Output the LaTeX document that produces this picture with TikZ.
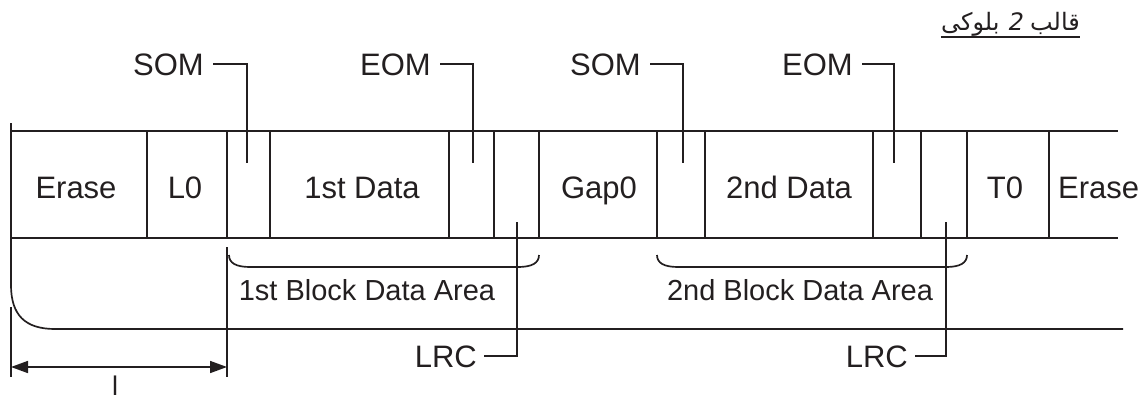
\documentclass[tikz,border=0pt]{standalone}
\usepackage{fontspec}
\setmainfont{Liberation Sans}
\newfontfamily\arabicfont[Script=Arabic]{DejaVu Sans}
\TeXXeTstate=1
\usetikzlibrary{arrows.meta}
\definecolor{ink}{RGB}{35,31,32}
\tikzset{
  lab/.style={font=\fontsize{31}{36}\selectfont, inner sep=0pt, text=ink},
  small/.style={font=\fontsize{29}{34}\selectfont, inner sep=0pt, text=ink},
  ttl/.style={font=\arabicfont\fontsize{24}{29}\selectfont, inner sep=0pt, text=ink},
  ln/.style={draw=ink, line width=1.7pt},
  dimarrow/.style={ln, {Triangle[length=17pt,width=12pt]}-{Triangle[length=17pt,width=12pt]}},
}
\begin{document}
\begin{tikzpicture}[x=1pt,y=-1pt]
\useasboundingbox (0,0) rectangle (1146,399);
% title
\node[ttl, anchor=base east] (title) at (1080,30) {\beginR قالب {\addfontfeature{FakeSlant=0.2}2} بلوکی\endR};
\draw[draw=ink, line width=1.3pt] ([yshift=-7pt]title.base west) -- ([yshift=-7pt]title.base east);
% tape outline
\draw[ln] (11,123) -- (11,285) .. controls (11,315) and (25,329) .. (55,329) -- (1123,329);
\draw[ln] (11,131) -- (1118,131);
\draw[ln] (11,238) -- (1118,238);
% cell dividers
\foreach \x in {147,227,270,449,494,539,657,705,873,921,967,1049}
  \draw[ln] (\x,131) -- (\x,238);
% cell texts
\node[lab, anchor=base] (erase1) at (76,198) {Erase};
\node[lab, anchor=base] (l0) at (185,198) {L0};
\node[lab, anchor=base] (d1) at (362,198) {1st Data};
\node[lab, anchor=base] (gap) at (599,198) {Gap0};
\node[lab, anchor=base] (d2) at (789,198) {2nd Data};
\node[lab, anchor=base] (t0) at (1005,198) {T0};
\node[lab, anchor=base west] (erase2) at (1058,198) {Erase};
% top leaders
\coordinate (s1) at (247,163);
\coordinate (e1) at (473,163);
\coordinate (s2) at (683,163);
\coordinate (e2) at (894,163);
\node[lab, anchor=base east] (som1) at (204,75) {SOM};
\node[lab, anchor=base east] (eom1) at (431,75) {EOM};
\node[lab, anchor=base east] (som2) at (641,75) {SOM};
\node[lab, anchor=base east] (eom2) at (853,75) {EOM};
\draw[ln] ([xshift=9pt]som1.east) -| (s1);
\draw[ln] ([xshift=9pt]eom1.east) -| (e1);
\draw[ln] ([xshift=9pt]som2.east) -| (s2);
\draw[ln] ([xshift=9pt]eom2.east) -| (e2);
% LRC leaders
\coordinate (r1) at (517,222);
\coordinate (r2) at (946,222);
\node[lab, anchor=base east] (lrc1) at (477,367) {LRC};
\node[lab, anchor=base east] (lrc2) at (908,367) {LRC};
\draw[ln] ([xshift=7pt]lrc1.east) -| (r1);
\draw[ln] ([xshift=7pt]lrc2.east) -| (r2);
% braces
\draw[ln] (229,255) .. controls (229,263) and (236,267) .. (250,267) -- (518,267) .. controls (532,267) and (539,263) .. (539,255);
\draw[ln] (657,255) .. controls (657,263) and (664,267) .. (678,267) -- (946,267) .. controls (960,267) and (967,263) .. (967,255);
\node[small, anchor=base] (b1) at (367,300) {1st Block Data Area};
\node[small, anchor=base] (b2) at (800,300) {2nd Block Data Area};
% dimension
\coordinate (da) at (11,367);
\coordinate (db) at (227,367);
\draw[ln] (11,307) -- (11,377);
\draw[ln] (227,247) -- (227,377);
\draw[dimarrow] (da) -- (db);
\node[font=\fontsize{27}{31}\selectfont, inner sep=0pt, text=ink, anchor=base] (len) at (115,395) {l};
\end{tikzpicture}
\end{document}
